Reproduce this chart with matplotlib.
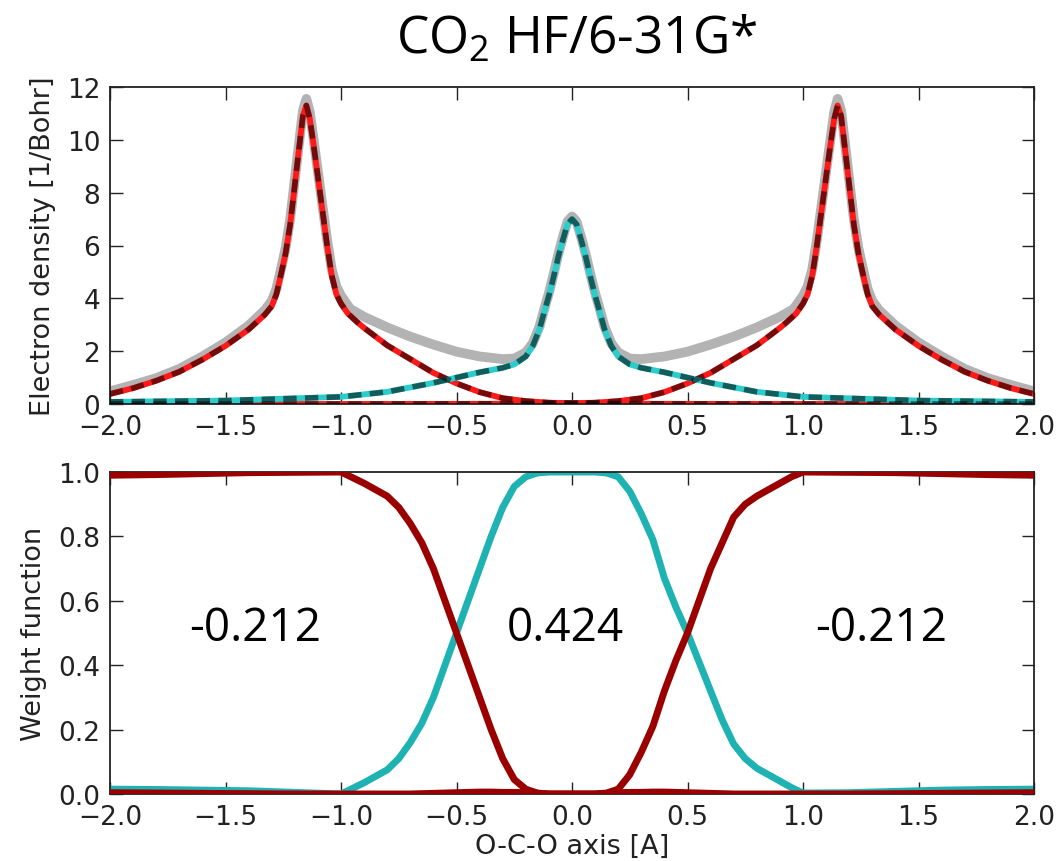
import matplotlib
matplotlib.use("Agg")
import matplotlib.pyplot as plt
from matplotlib.ticker import FuncFormatter

# ---------------- data ----------------
# Top panel: electron density along the O-C-O axis
x_O1 = [-2.0, -1.9, -1.8, -1.7, -1.6, -1.5, -1.4, -1.33, -1.30, -1.28, -1.26, -1.24,
        -1.22, -1.20, -1.18, -1.165, -1.15, -1.135, -1.12, -1.10, -1.08, -1.06, -1.04,
        -1.02, -1.0, -0.97, -0.93, -0.9, -0.8, -0.7, -0.6, -0.5, -0.4, -0.3, -0.2,
        -0.1, 0.0, 0.25, 0.5, 1.0, 1.5, 2.0]
rho_O1 = [0.38, 0.6, 0.88, 1.22, 1.68, 2.2, 2.82, 3.38, 3.7, 4.15, 4.9, 5.7,
          6.8, 8.3, 9.8, 10.9, 11.3, 10.8, 9.9, 8.6, 7.3, 6.0, 4.86,
          4.15, 3.8, 3.42, 3.1, 2.88, 2.22, 1.7, 1.18, 0.78, 0.45, 0.22, 0.11,
          0.05, 0.03, 0.01, 0.005, 0.0, 0.0, 0.0]

x_O2 = [-2.0, -1.5, -1.0, -0.5, -0.25, 0.0, 0.1, 0.2, 0.3, 0.4, 0.5, 0.6, 0.7, 0.8,
        0.9, 0.93, 0.97, 1.0, 1.02, 1.04, 1.06, 1.08, 1.10, 1.12, 1.135, 1.15,
        1.165, 1.18, 1.20, 1.22, 1.24, 1.26, 1.28, 1.30, 1.33, 1.4, 1.5, 1.6, 1.7,
        1.8, 1.9, 2.0]
rho_O2 = [0.0, 0.0, 0.0, 0.005, 0.01, 0.03, 0.05, 0.11, 0.22, 0.45, 0.78, 1.18, 1.7, 2.22,
          2.88, 3.1, 3.42, 3.8, 4.15, 4.86, 6.0, 7.3, 8.6, 9.9, 10.8, 11.3,
          10.9, 9.8, 8.3, 6.8, 5.7, 4.9, 4.15, 3.7, 3.38, 2.82, 2.2, 1.68, 1.22,
          0.88, 0.6, 0.38]

x_C = [-2.0, -1.5, -1.0, -0.8, -0.6, -0.5, -0.4, -0.3, -0.25, -0.2, -0.17, -0.14,
       -0.12, -0.1, -0.08, -0.06, -0.04, -0.02, 0.0, 0.02, 0.04, 0.06, 0.08, 0.1,
       0.12, 0.14, 0.17, 0.2, 0.25, 0.3, 0.4, 0.5, 0.6, 0.8, 1.0, 1.5, 2.0]
rho_C = [0.08, 0.13, 0.27, 0.46, 0.8, 1.0, 1.2, 1.37, 1.5, 1.8, 2.2, 2.85,
         3.5, 4.1, 4.8, 5.55, 6.2, 6.8, 7.0, 6.8, 6.2, 5.55, 4.8, 4.1,
         3.5, 2.85, 2.2, 1.8, 1.5, 1.37, 1.2, 1.0, 0.8, 0.46, 0.27, 0.13, 0.08]

x_tot = [-2.0, -1.9, -1.8, -1.7, -1.6, -1.5, -1.4, -1.33, -1.30, -1.28, -1.26, -1.24,
         -1.22, -1.20, -1.18, -1.165, -1.15, -1.135, -1.12, -1.10, -1.08, -1.06,
         -1.04, -1.02, -1.0, -0.96, -0.9, -0.8, -0.7, -0.6, -0.5, -0.4, -0.3, -0.25,
         -0.2, -0.17, -0.14, -0.12, -0.1, -0.08, -0.06, -0.04, -0.02, 0.0,
         0.02, 0.04, 0.06, 0.08, 0.1, 0.12, 0.14, 0.17, 0.2, 0.25, 0.3, 0.4, 0.5,
         0.6, 0.7, 0.8, 0.9, 0.96, 1.0, 1.02, 1.04, 1.06, 1.08, 1.10, 1.12, 1.135,
         1.15, 1.165, 1.18, 1.20, 1.22, 1.24, 1.26, 1.28, 1.30, 1.33, 1.4, 1.5, 1.6,
         1.7, 1.8, 1.9, 2.0]
rho_tot = [0.48, 0.72, 0.98, 1.33, 1.8, 2.33, 2.97, 3.55, 3.9, 4.35, 5.1, 5.9,
           7.0, 8.5, 10.0, 11.1, 11.55, 11.05, 10.1, 8.8, 7.5, 6.2,
           5.1, 4.45, 4.1, 3.6, 3.3, 2.9, 2.55, 2.25, 1.98, 1.8, 1.7, 1.72,
           1.95, 2.3, 2.95, 3.6, 4.2, 4.9, 5.65, 6.3, 6.9, 7.1,
           6.9, 6.3, 5.65, 4.9, 4.2, 3.6, 2.95, 2.3, 1.95, 1.72, 1.7, 1.8, 1.98,
           2.25, 2.55, 2.9, 3.3, 3.6, 4.1, 4.45, 5.1, 6.2, 7.5, 8.8, 10.1, 11.05,
           11.55, 11.1, 10.0, 8.5, 7.0, 5.9, 5.1, 4.35, 3.9, 3.55, 2.97, 2.33, 1.8,
           1.33, 0.98, 0.72, 0.48]

# Bottom panel: weight functions
x_w = [-2.0, -1.8, -1.6, -1.4, -1.2, -1.0, -0.9, -0.8, -0.75, -0.7, -0.65, -0.6,
       -0.55, -0.5, -0.45, -0.4, -0.35, -0.3, -0.25, -0.2, -0.15, -0.1, 0.0,
       0.1, 0.15, 0.2, 0.25, 0.3, 0.35, 0.4, 0.45, 0.5, 0.55, 0.6, 0.65, 0.7,
       0.75, 0.8, 0.85, 0.9, 0.95, 1.0, 1.2, 1.4, 1.6, 1.8, 2.0]
w_O1 = [0.99, 0.992, 0.995, 0.998, 0.999, 1.0, 0.965, 0.925, 0.89, 0.84, 0.78, 0.70,
        0.60, 0.50, 0.40, 0.30, 0.20, 0.11, 0.045, 0.015, 0.003, 0.0, 0.0,
        0.0, 0.002, 0.004, 0.005, 0.005, 0.006, 0.006, 0.005, 0.004, 0.003, 0.002, 0.001, 0.0,
        0.0, 0.0, 0.0, 0.0, 0.0, 0.0, 0.0, 0.001, 0.002, 0.003, 0.004]
w_C = [0.015, 0.014, 0.012, 0.01, 0.005, 0.0, 0.035, 0.075, 0.11, 0.16, 0.22, 0.30,
       0.40, 0.50, 0.60, 0.70, 0.80, 0.89, 0.955, 0.985, 0.997, 1.0, 1.0,
       1.0, 0.997, 0.985, 0.94, 0.87, 0.79, 0.67, 0.58, 0.50, 0.41, 0.32, 0.23, 0.155,
       0.11, 0.08, 0.06, 0.04, 0.02, 0.003, 0.004, 0.008, 0.012, 0.014, 0.015]
w_O2 = [0.004, 0.003, 0.002, 0.001, 0.0, 0.0, 0.0, 0.0, 0.0, 0.0, 0.001, 0.002,
        0.003, 0.004, 0.005, 0.006, 0.006, 0.005, 0.005, 0.004, 0.002, 0.0, 0.0,
        0.0, 0.003, 0.015, 0.06, 0.13, 0.21, 0.32, 0.415, 0.50, 0.60, 0.70, 0.78, 0.86,
        0.90, 0.925, 0.945, 0.965, 0.985, 1.0, 0.999, 0.998, 0.995, 0.992, 0.99]

charge_x = [-1.37, -0.03, 1.34]
charge_labels = ["-0.212", "0.424", "-0.212"]

title = "CO$\\mathregular{_2}$ HF/6-31G*"
ylabel_top = "Electron density [1/Bohr]"
ylabel_bottom = "Weight function"
xlabel = "O-C-O axis [A]"
x_ticks = [-2.0, -1.5, -1.0, -0.5, 0.0, 0.5, 1.0, 1.5, 2.0]
y_ticks_top = [0, 2, 4, 6, 8, 10, 12]
y_ticks_bottom = [0.0, 0.2, 0.4, 0.6, 0.8, 1.0]

# ---------------- styling ----------------
plt.rcParams['font.family'] = ['DejaVu Sans']
plt.rcParams['mathtext.fontset'] = 'custom'
plt.rcParams['mathtext.rm'] = 'Open Sans'

W, H = 1062, 862
fig = plt.figure(figsize=(W / 100, H / 100), dpi=100)

L, R = 110 / W, 1034 / W
ax1 = fig.add_axes([L, 1 - 405 / H, R - L, (405 - 88) / H])
ax2 = fig.add_axes([L, 1 - 795 / H, R - L, (795 - 473) / H])

GREY = '#b3b3b3'
RED = '#ff1a1a'
CYAN = '#2ccccc'
DARKRED = '#9a0000'
CYAN2 = '#1fb2b2'
dash = (0, (2.4, 1.5))

ax1.plot(x_tot, rho_tot, color=GREY, lw=7, solid_capstyle='round', zorder=1)
ax1.plot(x_O1, rho_O1, color=RED, lw=4.2, zorder=2)
ax1.plot(x_O2, rho_O2, color=RED, lw=4.2, zorder=2)
ax1.plot(x_C, rho_C, color=CYAN, lw=4.2, zorder=2)
for xs, ys in ((x_O1, rho_O1), (x_O2, rho_O2), (x_C, rho_C)):
    ax1.plot(xs, ys, color='black', alpha=0.55, lw=4.0, linestyle=dash, zorder=3)

ax2.plot(x_w, w_C, color=CYAN2, lw=5, zorder=2)
ax2.plot(x_w, w_O1, color=DARKRED, lw=5, zorder=3)
ax2.plot(x_w, w_O2, color=DARKRED, lw=5, zorder=3)

for xv, lab in zip(charge_x, charge_labels):
    ax2.text(xv, 0.515, lab, ha='center', va='center', fontsize=33,
             family='Open Sans', color='black')

minus_fmt = FuncFormatter(lambda v, p: ('%.1f' % v).replace('-', '\u2212'))

for ax in (ax1, ax2):
    ax.set_xlim(-2, 2)
    ax.set_xticks(x_ticks)
    ax.xaxis.set_major_formatter(minus_fmt)
    ax.tick_params(direction='in', top=True, right=True, length=9, width=1,
                   labelsize=19, pad=7, colors='#222222')
    for sp in ax.spines.values():
        sp.set_linewidth(1.3)
        sp.set_color('#222222')

ax1.set_ylim(0, 12)
ax1.set_yticks(y_ticks_top)
ax2.set_ylim(0, 1)
ax2.set_yticks(y_ticks_bottom)
ax2.yaxis.set_major_formatter(FuncFormatter(lambda v, p: '%.1f' % v))

ax1.set_ylabel(ylabel_top, fontsize=19.5, color='#222222', labelpad=8)
ax2.set_ylabel(ylabel_bottom, fontsize=19.5, color='#222222', labelpad=8)
ax2.set_xlabel(xlabel, fontsize=19.5, color='#222222', labelpad=2)

fig.text(0.543, 1 - 40 / H, title, ha='center', va='center', fontsize=37,
         family='Open Sans')

fig.savefig('out.png', dpi=100)
